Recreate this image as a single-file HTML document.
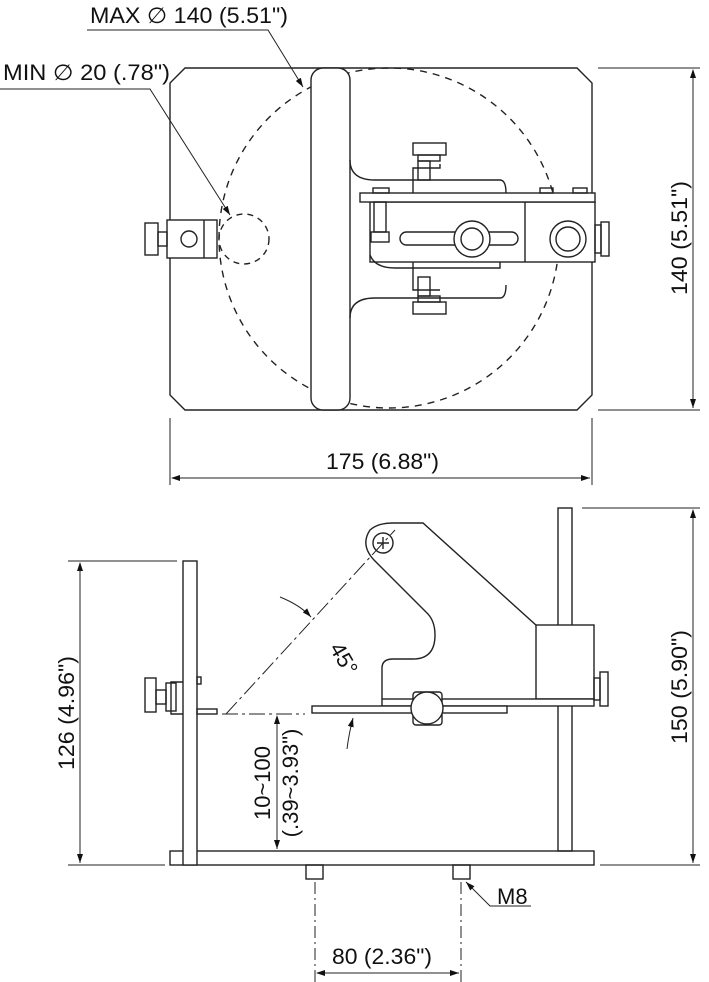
<!DOCTYPE html>
<html><head><meta charset="utf-8"><style>
html,body{margin:0;padding:0;background:#fff;}
svg{display:block;}
text{font-family:"Liberation Sans",Arial,sans-serif;fill:#111;}
</style></head><body>
<svg width="709" height="982" viewBox="0 0 709 982" xmlns="http://www.w3.org/2000/svg">
<defs>
<marker id="a" markerWidth="10" markerHeight="6" refX="9" refY="3" orient="auto" markerUnits="userSpaceOnUse"><path d="M0,0 L9,3 L0,6 z" fill="#111"/></marker>
<marker id="b" markerWidth="10" markerHeight="6" refX="1" refY="3" orient="auto" markerUnits="userSpaceOnUse"><path d="M9,0 L0,3 L9,6 z" fill="#111"/></marker>
</defs>
<g fill="none" stroke="#222" stroke-width="1.4">
<path d="M185,68 L577,68 L592,83 L592,395 L577,410 L185,410 L170,395 L170,83 Z"/>
<circle cx="389" cy="238" r="170" stroke-dasharray="7,6"/>
<circle cx="244" cy="239" r="25" stroke-dasharray="6,5"/>
<rect x="311" y="68" width="39" height="342" rx="12" fill="#fff"/>
<path d="M350,160 Q350,180 375,180 L500,180 Q506,180 506,193"/>
<path d="M350,318 Q350,298 375,298 L500,298 Q506,298 506,285"/>
<rect x="370" y="202" width="225" height="60" fill="#fff"/>
<path d="M370,255 Q375,268 395,268 L500,268 L500,262" />
<line x1="525" y1="202" x2="525" y2="262"/>
<rect x="360" y="193" width="235" height="9" fill="#fff"/>
<rect x="400" y="232" width="118" height="13" rx="6.5"/>
<circle cx="472" cy="239" r="18" fill="#fff"/><circle cx="472" cy="239" r="11"/>
<circle cx="568" cy="239" r="18"/><circle cx="568" cy="239" r="12"/>
<rect x="373" y="188" width="16" height="5"/>
<rect x="540" y="188" width="13" height="5"/><rect x="573" y="188" width="14" height="5"/>
<rect x="374" y="202" width="12" height="30"/><rect x="371" y="232" width="18" height="10"/>
<rect x="413" y="143" width="33" height="12"/><rect x="418" y="155" width="22" height="6"/>
<rect x="418" y="161" width="12" height="19"/>
<path d="M413,193 L413,168 L440,168 L440,164"/>
<rect x="413" y="302" width="33" height="12"/><rect x="418" y="296" width="22" height="6"/>
<rect x="418" y="277" width="12" height="19"/>
<path d="M413,262 L413,290 L440,290"/>
<rect x="595" y="225" width="6" height="28"/><rect x="601" y="222" width="8" height="34"/>
<rect x="167" y="220" width="50" height="38" fill="#fff"/><line x1="204" y1="220" x2="204" y2="258"/>
<circle cx="189" cy="239" r="8"/>
<rect x="158" y="232" width="9" height="14"/><rect x="145" y="223" width="13" height="32"/>
</g>
<g fill="none" stroke="#222" stroke-width="1">
<path d="M87,30 L268,30 L303,87" marker-end="url(#a)"/>
<path d="M0,89 L150,89 L230,215" marker-end="url(#a)"/>
<line x1="598" y1="68" x2="700" y2="68"/><line x1="598" y1="410" x2="700" y2="410"/>
<line x1="693" y1="70" x2="693" y2="408" marker-start="url(#b)" marker-end="url(#a)"/>
<line x1="170" y1="418" x2="170" y2="485"/><line x1="592" y1="418" x2="592" y2="485"/>
<line x1="172" y1="478" x2="590" y2="478" marker-start="url(#b)" marker-end="url(#a)"/>
</g>
<text x="90" y="23" font-size="22" textLength="198" lengthAdjust="spacingAndGlyphs">MAX ∅ 140 (5.51")</text>
<text x="3" y="80" font-size="22" textLength="167" lengthAdjust="spacingAndGlyphs">MIN ∅ 20 (.78")</text>
<text x="326" y="469" font-size="22" textLength="113" lengthAdjust="spacingAndGlyphs">175 (6.88")</text>
<text transform="translate(687,295) rotate(-90)" font-size="22" textLength="114" lengthAdjust="spacingAndGlyphs">140 (5.51")</text>

<g fill="none" stroke="#222" stroke-width="1.4">
<rect x="170" y="851" width="424" height="14"/>
<rect x="183" y="561" width="14" height="304" fill="#fff"/>
<rect x="558" y="508" width="14" height="343"/>
<path d="M382,699 L382,668 Q382,659 393,659 L413,659 Q435,659 435,635 Q435,620 426,612 L374,560 Q360,545 370,530 Q378,523 392,523 L423,523 L537,626"/>
<circle cx="383" cy="543" r="10"/>
<path d="M377,543 L389,543 M383,537 L383,549"/>
<rect x="536" y="625" width="58" height="74" fill="#fff"/>
<rect x="382" y="699" width="212" height="7" fill="#fff"/>
<rect x="312" y="706" width="195" height="7" fill="#fff"/>
<rect x="413" y="692" width="29" height="33" rx="3" fill="#fff"/>
<circle cx="427" cy="708" r="16" fill="#fff"/>
<rect x="594" y="678" width="6" height="22"/><rect x="600" y="672" width="8" height="34"/>
<rect x="197" y="709" width="20" height="5"/>
<rect x="197" y="677" width="4" height="7"/>
<path d="M183,682 L171,682 L171,714 L183,714"/>
<rect x="166" y="683" width="10" height="28"/>
<rect x="156" y="690" width="10" height="14"/>
<rect x="145" y="678" width="11" height="34"/>
<rect x="306" y="865" width="17" height="14"/><rect x="453" y="865" width="17" height="14"/>
</g>
<g fill="none" stroke="#222" stroke-width="1">
<path d="M226,714 L395,530" stroke-dasharray="16,4,3,4"/>
<path d="M222,714 L305,714" stroke-dasharray="16,4,3,4"/>
<path d="M280,597 Q300,605 311,617" marker-end="url(#a)"/>
<path d="M347,749 Q349,733 353,718" marker-end="url(#a)"/>
<line x1="277" y1="716" x2="277" y2="849" marker-start="url(#b)" marker-end="url(#a)"/>
<line x1="68" y1="561" x2="177" y2="561"/><line x1="68" y1="865" x2="165" y2="865"/>
<line x1="80" y1="563" x2="80" y2="863" marker-start="url(#b)" marker-end="url(#a)"/>
<line x1="582" y1="508" x2="700" y2="508"/><line x1="600" y1="865" x2="700" y2="865"/>
<line x1="693" y1="510" x2="693" y2="863" marker-start="url(#b)" marker-end="url(#a)"/>
<line x1="315" y1="882" x2="315" y2="982" stroke-dasharray="12,4,2,4"/>
<line x1="461" y1="882" x2="461" y2="982" stroke-dasharray="12,4,2,4"/>
<line x1="317" y1="973" x2="459" y2="973" marker-start="url(#b)" marker-end="url(#a)"/>
<path d="M531,906 L490,906 L466,882" marker-end="url(#a)"/>
</g>
<text transform="translate(329,648) rotate(60)" font-size="22">45°</text>
<text transform="translate(270,783) rotate(-90)" font-size="22" text-anchor="middle">10~100</text>
<text transform="translate(298,783) rotate(-90)" font-size="22" text-anchor="middle">(.39~3.93")</text>
<text transform="translate(74,770) rotate(-90)" font-size="22" textLength="114" lengthAdjust="spacingAndGlyphs">126 (4.96")</text>
<text transform="translate(687,744) rotate(-90)" font-size="22" textLength="114" lengthAdjust="spacingAndGlyphs">150 (5.90")</text>
<text x="332" y="964" font-size="22" textLength="100" lengthAdjust="spacingAndGlyphs">80 (2.36")</text>
<text x="497" y="904" font-size="22">M8</text>
</svg>
</body></html>
